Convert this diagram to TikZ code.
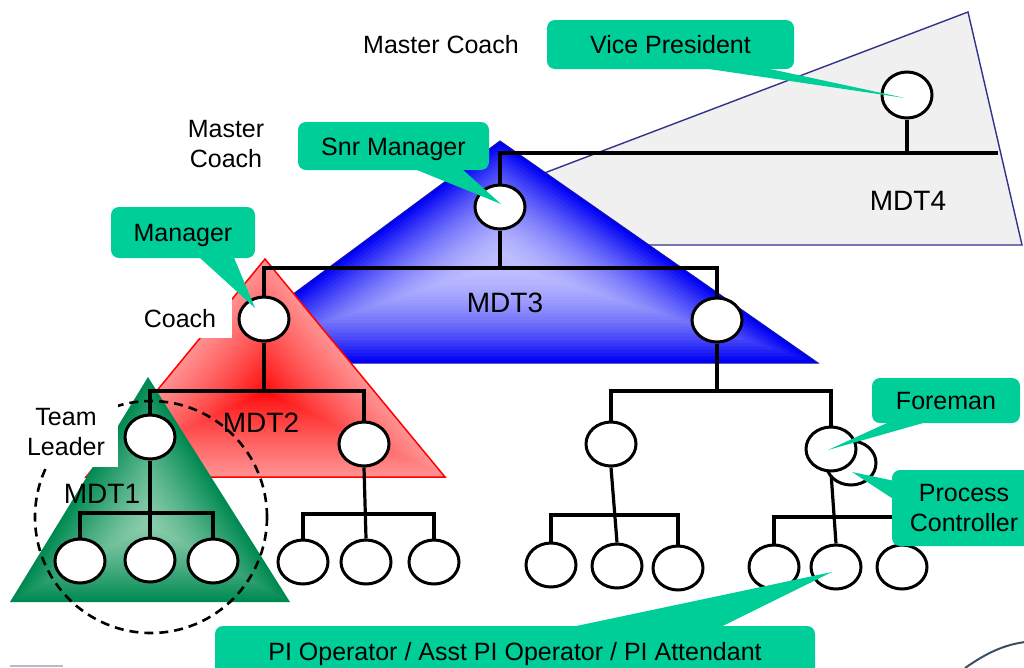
\documentclass[tikz,border=0pt]{standalone}
\usepackage{fontspec}
\setmainfont{Liberation Sans}
\usetikzlibrary{shapes.geometric,calc}

\definecolor{calloutgreen}{RGB}{0,206,153}
\definecolor{mdtfourgray}{RGB}{240,240,240}
\definecolor{mdtfouredge}{RGB}{50,50,140}
\definecolor{blueedge}{RGB}{0,0,245}
\definecolor{bluecore}{RGB}{192,192,255}
\definecolor{blueline}{RGB}{20,20,170}
\definecolor{redrim}{RGB}{255,145,145}
\definecolor{redcore}{RGB}{255,0,0}
\definecolor{greenrim}{RGB}{0,138,82}
\definecolor{greencore}{RGB}{140,205,172}
\definecolor{scrapgray}{RGB}{185,185,195}
\definecolor{scrapslate}{RGB}{60,80,100}

\pgfdeclarelayer{shapes}
\pgfdeclarelayer{wires}
\pgfdeclarelayer{front}
\pgfsetlayers{shapes,wires,main,front}

\newcommand\labelfont{\fontsize{25}{30}\selectfont}
\newcommand\teamfont{\fontsize{28}{32}\selectfont}

\tikzset{
  person/.style={ellipse, draw=black, line width=3pt, fill=white,
    minimum width=50pt, minimum height=44pt, inner sep=0pt},
  tie/.style={draw=black, line width=3.2pt},
  txt/.style={font=\labelfont, inner sep=0pt, text height=18pt, text depth=0pt},
  txtml/.style={font=\labelfont, inner sep=0pt, align=center},
  mdt/.style={font=\teamfont, inner sep=0pt, text height=20pt, text depth=0pt},
  bubble/.style={fill=calloutgreen, rounded corners=8pt, font=\labelfont,
    inner sep=0pt, text height=18pt, text depth=0pt},
  bubbleml/.style={fill=calloutgreen, rounded corners=8pt, font=\labelfont,
    inner sep=0pt, align=center},
  pointer/.style={fill=calloutgreen},
  ring/.style={draw=black, line width=2.6pt, dash pattern=on 9pt off 6pt}
}

\begin{document}
\begin{tikzpicture}[x=1pt,y=-1pt]
\useasboundingbox (0,0) rectangle (1024,667);

% ---------------- team triangles ----------------
\begin{pgfonlayer}{shapes}
  % MDT4 panel
  \filldraw[fill=mdtfourgray, draw=mdtfouredge, line width=1.4pt]
    (447,210) -- (968,12) -- (1022,245) -- (620,245) -- cycle;

  % MDT3: blue, pale in the middle
  \foreach \i in {0,...,29} {
    \pgfmathsetmacro\k{1-\i/30}
    \pgfmathsetmacro\p{100*(\k)^1.8}
    \fill[blueedge!\p!bluecore, scale around={\k:(501.7,263.5)}]
      (500,141) -- (200,363) -- (818,363) -- cycle;
  }
  \draw[blueline, line width=1pt] (500,141) -- (200,363) -- (818,363) -- cycle;

  % MDT2: red, strongest in the middle
  \foreach \i in {0,...,29} {
    \pgfmathsetmacro\k{1-\i/30}
    \pgfmathsetmacro\p{100*(\k)^0.8}
    \fill[redrim!\p!redcore, scale around={\k:(265.2,392.3)}]
      (265,259) -- (86,477) -- (445,477) -- cycle;
  }
  \draw[red, line width=1.5pt] (265,259) -- (86,477) -- (445,477) -- cycle;

  % MDT1: green, pale in the middle
  \foreach \i in {0,...,29} {
    \pgfmathsetmacro\k{1-\i/30}
    \pgfmathsetmacro\p{100*(\k)^1.3}
    \fill[greenrim!\p!greencore, scale around={\k:(148.9,524.2)}]
      (148,377) -- (10,602) -- (290,602) -- cycle;
  }

  % team leader's circle of influence
  \draw[ring] (151,517) circle [radius=116pt];

  % role captions
  \node[txt] (mcTop) at (441,44) {Master Coach};
  \node[txtml] (mcMid) at (226,144) {Master\\Coach};
  \node[txt, fill=white, minimum width=104pt, minimum height=40pt] (coachLbl) at (180,318) {Coach};
  \node[txtml, fill=white, minimum width=104pt, minimum height=70pt] (leaderLbl) at (66,432) {Team\\Leader};

  % team names
  \node[mdt] (mdtA) at (102,493) {MDT1};
  \node[mdt] (mdtB) at (261,422) {MDT2};
  \node[mdt] (mdtC) at (505,302) {MDT3};
  \node[mdt] (mdtD) at (908,200) {MDT4};

  % stray strokes along the lower edge
  \draw[scrapgray, line width=2.5pt] (10,666) -- (63,666);
  \draw[scrapslate, line width=2pt] (965,668) .. controls (988,652) and (1004,645) .. (1025,642);
\end{pgfonlayer}

% ---------------- people ----------------
\node[person, minimum height=46pt] (vp) at (907,95) {};
\node[person] (snr) at (500,207) {};
\node[person] (mgr) at (264,319) {};
\node[person] (m3b) at (717,320) {};
\node[person] (tl) at (150,437) {};
\node[person] (m2b) at (364,444) {};
\node[person] (t1a) at (80,561) {};
\node[person] (t1b) at (150,560) {};
\node[person] (t1c) at (213,561) {};
\node[person] (t2a) at (303,562) {};
\node[person] (t2b) at (366,562) {};
\node[person] (t2c) at (434,562) {};
\node[person] (fl) at (611,444) {};
\node[person] (pc) at (851,463) {};
\node[person] (fm) at (831,449) {};
\node[person] (fl1) at (551,565) {};
\node[person] (fl2) at (617,566) {};
\node[person] (fl3) at (678,568) {};
\node[person] (fm1) at (774,567) {};
\node[person] (fm2) at (836,567) {};
\node[person] (fm3) at (902,567) {};

% ---------------- reporting lines ----------------
\coordinate (bar4) at (998,153);
\coordinate (bar3) at (0,268);
\coordinate (bar2) at (0,391);
\coordinate (bar1) at (0,513);
\coordinate (bar2b) at (0,514);
\coordinate (bar3b) at (0,391);
\coordinate (bar4b) at (0,515);
\coordinate (bar5b) at (0,517);

\begin{pgfonlayer}{wires}
  \draw[tie] (vp.south) -- (vp.south |- bar4);
  \draw[tie] (snr.north) |- (bar4);

  \draw[tie] (snr.south) -- (snr.south |- bar3);
  \draw[tie] (mgr.north) |- (m3b.north |- bar3) -- (m3b.north);

  \draw[tie] (mgr.south) -- (mgr.south |- bar2);
  \draw[tie] (tl.north) |- (m2b.north |- bar2) -- (m2b.north);

  \draw[tie] (tl.south) -- (t1b.north);
  \draw[tie] (t1a.north) |- (t1c.north |- bar1) -- (t1c.north);

  \draw[tie] (m2b.south) -- (t2b.north);
  \draw[tie] (t2a.north) |- (t2c.north |- bar2b) -- (t2c.north);

  \draw[tie] (m3b.south) -- (m3b.south |- bar3b);
  \draw[tie] (fl.north) |- (fm.north |- bar3b) -- (fm.north);

  \draw[tie] (fl.south) -- (fl2.north);
  \draw[tie] (fl1.north) |- (fl3.north |- bar4b) -- (fl3.north);

  \draw[tie] (fm.south) -- (fm2.north);
  \draw[tie] (fm1.north) |- (fm3.north |- bar5b) -- (fm3.north);
\end{pgfonlayer}

% ---------------- role callouts ----------------
\begin{pgfonlayer}{front}
  \node[bubble, minimum width=247pt, minimum height=49pt] (vpb) at (670.5,44.5) {Vice President};
  \fill[pointer] ($(vpb.south)+(19.5,-3)$) -- ($(vp.center)+(-2,3)$) -- ($(vpb.south)+(86.5,-3)$) -- cycle;

  \node[bubble, minimum width=191pt, minimum height=48pt] (snrb) at (393.5,146) {Snr Manager};
  \fill[pointer] ($(snrb.south)+(16.5,-3)$) -- ($(snr.center)+(1,-3)$) -- ($(snrb.south)+(66.5,-3)$) -- cycle;

  \node[bubble, minimum width=144pt, minimum height=51pt] (mgrb) at (183,232.5) {Manager};
  \fill[pointer] ($(mgrb.south)+(14,-3)$) -- ($(mgr.center)+(-9,-11)$) -- ($(mgrb.south)+(50,-3)$) -- cycle;

  \node[bubble, minimum width=148pt, minimum height=45pt] (fmb) at (946,400.5) {Foreman};
  \fill[pointer] ($(fmb.south)+(-53,-3)$) -- ($(fm.center)+(-3,1)$) -- ($(fmb.south)+(-13,-3)$) -- cycle;

  \node[bubbleml, minimum width=144pt, minimum height=76pt] (pcb) at (964,508) {Process\\Controller};
  \fill[pointer] ($(pcb.west)+(3,-27)$) -- ($(pc.center)+(1,9)$) -- ($(pcb.west)+(3,-8)$) -- cycle;

  \node[bubble, minimum width=600pt, minimum height=50pt] (pib) at (515,651) {PI Operator / Asst PI Operator / PI Attendant};
  \fill[pointer] ($(pib.north)+(48,3)$) -- ($(fm2.center)+(-4,5)$) -- ($(pib.north)+(202,3)$) -- cycle;
\end{pgfonlayer}
\end{tikzpicture}
\end{document}
